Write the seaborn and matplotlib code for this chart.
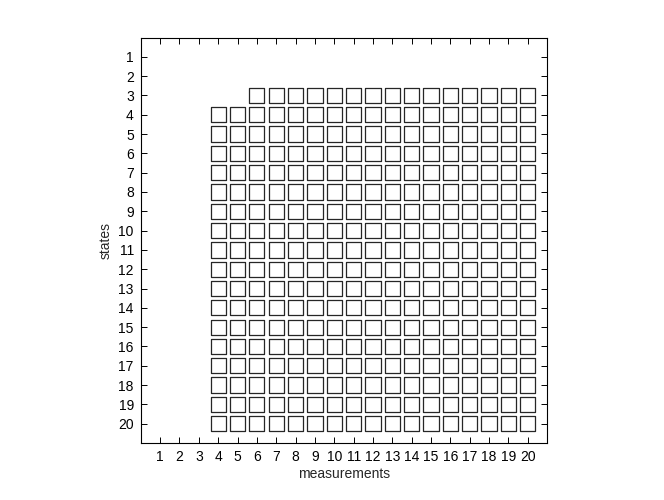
import numpy as np
import pandas as pd
import matplotlib
matplotlib.use("Agg")
import matplotlib.pyplot as plt
import seaborn as sns

# --- data ---
states = list(range(1, 21))
measurements = list(range(1, 21))
# first measurement that has a marker for each state (None = empty row)
first_measurement = [None, None, 6] + [4] * 17
last_measurement = 20

rows = []
for st, first in zip(states, first_measurement):
    if first is None:
        continue
    for m in range(first, last_measurement + 1):
        rows.append({"measurement": m, "state": st})
df = pd.DataFrame(rows)

sns.set_style("white")
plt.rcParams['font.family'] = ['Liberation Sans', 'DejaVu Sans']

fig = plt.figure(figsize=(6.64, 5.0), dpi=100)
ax = fig.add_axes([0.212, 0.114, 0.612, 0.811])

sns.scatterplot(data=df, x="measurement", y="state", marker="s", s=120,
                facecolor="none", edgecolor="0.15", linewidth=0.9, ax=ax)

ax.set_xlim(0, 21)
ax.set_ylim(21, 0)
ax.set_xticks(measurements)
ax.set_yticks(states)
ax.set_xticklabels([str(m) for m in measurements])
ax.set_yticklabels([str(s) for s in states])
ax.tick_params(direction="in", length=4, width=0.7, top=True, right=True,
               bottom=True, left=True, labelsize=10, colors="black", pad=5)
for sp in ax.spines.values():
    sp.set_visible(True)
    sp.set_color("black")
    sp.set_linewidth(0.8)
ax.set_xlabel("measurements", fontsize=10, labelpad=2)
ax.set_ylabel("states", fontsize=10, labelpad=4)

plt.savefig("out.png", dpi=100)
